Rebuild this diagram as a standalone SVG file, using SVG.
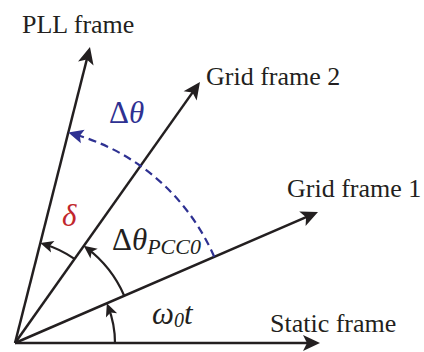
<svg xmlns="http://www.w3.org/2000/svg" width="424" height="352" viewBox="0 0 424 352">
<defs>
<style>
.ax{stroke:#231f20;stroke-width:2.5;fill:none}
.arc{stroke:#231f20;stroke-width:2.2;fill:none}
.dash{stroke:#2e3192;stroke-width:2.2;fill:none;stroke-dasharray:8 5}
.lbl{font-family:"Liberation Serif","Times New Roman",serif;font-size:26px;fill:#231f20}
.gr{font-family:"Liberation Serif","Times New Roman",serif;font-size:31px}
.it{font-style:italic}
</style>
<marker id="big" markerUnits="userSpaceOnUse" viewBox="-12 -9 19 18" markerWidth="19" markerHeight="18" refX="0" refY="0" orient="auto">
<path d="M6,0 L-11,-8 L-7,0 L-11,8 Z" fill="#231f20"/>
</marker>
<marker id="small" markerUnits="userSpaceOnUse" viewBox="-10 -7 15 14" markerWidth="15" markerHeight="14" refX="0" refY="0" orient="auto">
<path d="M4,0 L-9,-6 L-6,0 L-9,6 Z" fill="#231f20"/>
</marker>
<marker id="blue" markerUnits="userSpaceOnUse" viewBox="-11 -8 17 16" markerWidth="17" markerHeight="16" refX="0" refY="0" orient="auto">
<path d="M5,0 L-10,-7 L-7,0 L-10,7 Z" fill="#2e3192"/>
</marker>
</defs>
<rect width="424" height="352" fill="#ffffff"/>
<g id="connectors">
<line class="ax" x1="15" y1="343" x2="314" y2="343" marker-end="url(#big)"/>
<line class="ax" x1="15" y1="343" x2="312.5" y2="214.4" marker-end="url(#big)"/>
<line class="ax" x1="15" y1="343" x2="196.5" y2="86.9" marker-end="url(#big)"/>
<line class="ax" x1="15" y1="343" x2="88.5" y2="52.8" marker-end="url(#big)"/>
<path class="arc" d="M115,343 A100,100 0 0 0 108.3,307" marker-end="url(#small)"/>
<path class="arc" d="M124.2,295.7 A119,119 0 0 0 86.9,248.2" marker-end="url(#small)"/>
<path class="arc" d="M74.5,258.9 A103,103 0 0 0 44.1,244.2" marker-end="url(#small)"/>
<path class="dash" d="M214.2,256.8 A217,217 0 0 0 73.1,133.9" marker-end="url(#blue)"/>
</g>
<g id="static-frame"><text class="lbl" x="270" y="332">Static frame</text></g>
<g id="grid-frame-1"><text class="lbl" x="287" y="197">Grid frame 1</text></g>
<g id="grid-frame-2"><text class="lbl" x="206" y="85">Grid frame 2</text></g>
<g id="pll-frame"><text class="lbl" x="22" y="33">PLL frame</text></g>
<g id="delta-theta"><text class="gr" x="109" y="123" fill="#2e3192">Δ<tspan class="it">θ</tspan></text></g>
<g id="delta"><text class="gr it" x="62" y="226" fill="#c1272d">δ</text></g>
<g id="delta-theta-pcc0"><text class="gr" x="112" y="250" fill="#231f20">Δ<tspan class="it">θ</tspan><tspan class="it" font-size="22" dy="4">PCC0</tspan></text></g>
<g id="omega0t"><text class="gr it" x="152" y="324" fill="#231f20">ω<tspan font-size="20" dy="3">0</tspan><tspan dy="-3">t</tspan></text></g>
</svg>
